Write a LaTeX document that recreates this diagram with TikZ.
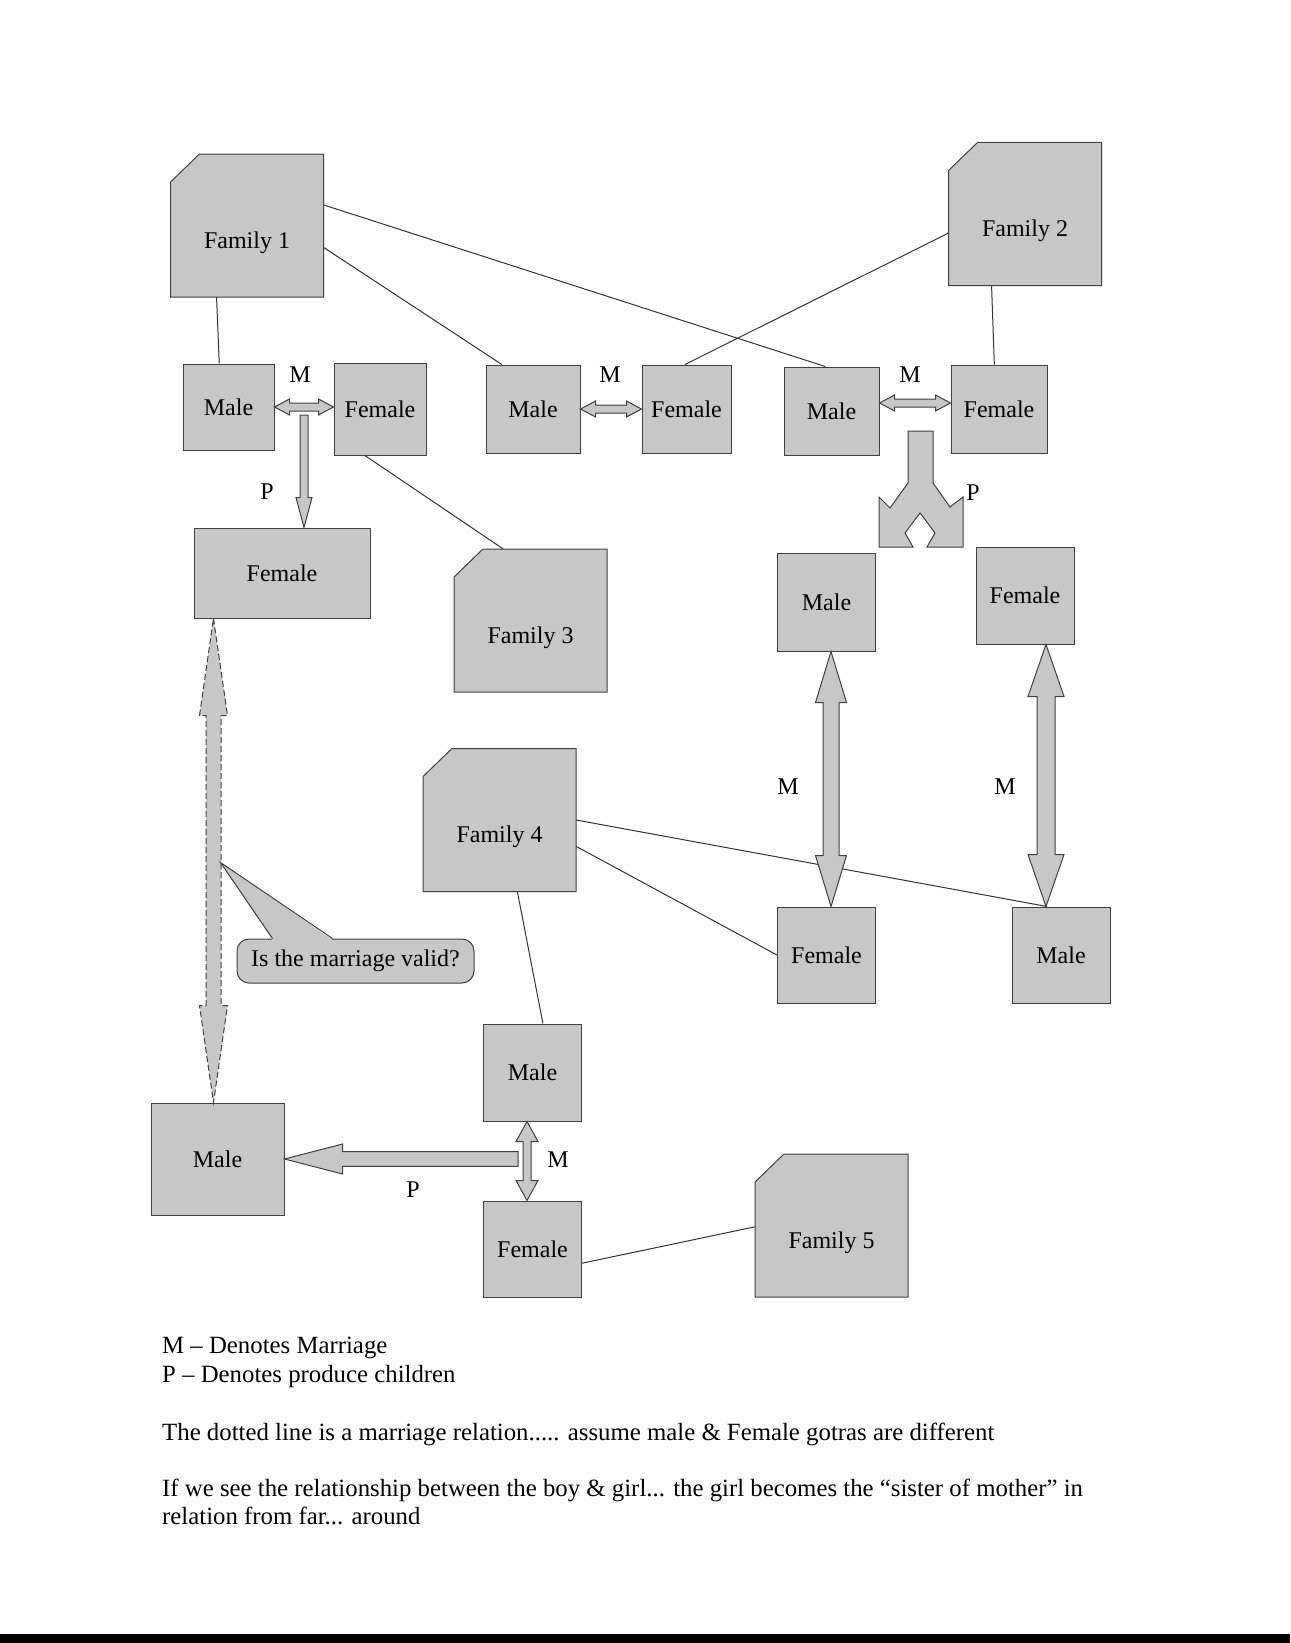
\documentclass[tikz,border=0pt]{standalone}
\usepackage{fontspec}
\setmainfont{Liberation Serif}
\usetikzlibrary{calc}

% freccia larga a due punte: [stile] da, a, mezzo fusto, mezza punta, lunghezza punta
\newcommand\twoway[6][]{%
  \coordinate (ha) at ($(#2)!#6!(#3)$);
  \coordinate (hb) at ($(#3)!#6!(#2)$);
  \path[fat,#1] (#2) -- ($(ha)!#5!90:(#3)$) -- ($(ha)!#4!90:(#3)$)
    -- ($(hb)!#4!-90:(#2)$) -- ($(hb)!#5!-90:(#2)$) -- (#3)
    -- ($(hb)!#5!90:(#2)$) -- ($(hb)!#4!90:(#2)$)
    -- ($(ha)!#4!-90:(#3)$) -- ($(ha)!#5!-90:(#3)$) -- cycle;}
% freccia larga a una punta
\newcommand\oneway[6][]{%
  \coordinate (ha) at ($(#3)!#6!(#2)$);
  \path[fat,#1] ($(#2)!#4!90:(#3)$) -- ($(ha)!#4!-90:(#2)$) -- ($(ha)!#5!-90:(#2)$)
    -- (#3) -- ($(ha)!#5!90:(#2)$) -- ($(ha)!#4!90:(#2)$) -- ($(#2)!#4!-90:(#3)$) -- cycle;}
% famiglia: riquadro con angolo smussato, nome, centro, testo
\newcommand\famnode[3]{%
  \path[fat, shift={(#2)}] (-47.5,-71.5) -- (76.5,-71.5) -- (76.5,71.5)
    -- (-76.5,71.5) -- (-76.5,-43.5) -- cycle;
  \node[family] (#1) at (#2) {#3};}

\begin{document}
\begin{tikzpicture}[x=1pt, y=-1pt, font=\fontsize{24}{28}\selectfont,
    box/.style={draw=black!75, line width=1pt, fill=black!22, inner sep=0pt},
    person/.style={box, minimum width=98pt, minimum height=96pt},
    family/.style={inner sep=0pt, minimum width=153pt, minimum height=143pt,
      text height=45pt, text depth=0pt},
    link/.style={draw=black!80, line width=1pt},
    fat/.style={draw=black!75, line width=1pt, fill=black!22},
    lbl/.style={inner sep=0pt},
    note/.style={anchor=base west, inner sep=0pt, font=\fontsize{24.8}{28}\selectfont}]
    \useasboundingbox (0,0) rectangle (1290,1643);
    \fill (0,1634) rectangle (1290,1643);

    % Famiglie
    \famnode{fam1}{247,225.5}{Family 1}
    \famnode{fam2}{1025,214}{Family 2}
    \famnode{fam3}{530.5,620.5}{Family 3}
    \famnode{fam4}{499.5,820}{Family 4}
    \famnode{fam5}{831.5,1225.5}{Family 5}

    % Persone
    \node[person, minimum width=91pt, minimum height=86pt] (m1) at (228.5,407) {Male};
    \node[person, minimum width=92pt, minimum height=92pt] (f1) at (380,409) {Female};
    \node[person, minimum width=94pt, minimum height=88pt] (m2) at (533,409) {Male};
    \node[person, minimum width=89pt, minimum height=88pt] (f2) at (686.5,409) {Female};
    \node[person, minimum width=95pt, minimum height=88pt] (m3) at (831.5,411) {Male};
    \node[person, minimum width=96pt, minimum height=88pt] (f3) at (999,409) {Female};
    \node[person, minimum width=176pt, minimum height=90pt] (f6) at (282,573) {Female};
    \node[person, minimum height=98pt] (m4) at (826.5,602) {Male};
    \node[person, minimum height=97pt] (f4) at (1025,595.5) {Female};
    \node[person] (f5) at (826.5,955) {Female};
    \node[person] (m6) at (1061,955) {Male};
    \node[person, minimum height=97pt] (m7) at (532.5,1072.5) {Male};
    \node[person] (f7) at (532.5,1249) {Female};
    \node[person, minimum width=133pt, minimum height=112pt] (m8) at (217.5,1159) {Male};

    % Collegamenti
    \draw[link] (fam1.-113) -- (m1.102);
    \draw[link] (fam1.-16.5) -- (m2.125);
    \draw[link] (fam1.15) -- (m3.98);
    \draw[link] (fam2.194) -- (f2.92);
    \draw[link] (fam2.-115) -- (f3.96);
    \draw[link] (f1.-108) -- (fam3.111);
    \draw[link] (fam4.0) -- (m6.106);
    \draw[link] (fam4.-19) -- (f5.west);
    \draw[link] (fam4.-76) -- (m7.78);
    \draw[link] (f7.-16) -- (fam5.181);

    % Matrimoni
    \coordinate (a1) at (m1.east -| f1.west);
    \twoway{m1.east}{a1}{4pt}{8pt}{15pt}
    \twoway{m2.east}{f2.west}{4pt}{8pt}{15pt}
    \coordinate (a3) at ([yshift=8pt]m3.east);
    \coordinate (b3) at (a3 -| f3.west);
    \twoway{a3}{b3}{4pt}{8pt}{15pt}
    \coordinate (a4) at ([xshift=4.5pt]m4.south);
    \coordinate (b4) at (a4 |- f5.north);
    \twoway{a4}{b4}{8pt}{15.5pt}{51pt}
    \coordinate (c4) at ([xshift=21pt]f4.south);
    \coordinate (d4) at (c4 |- m6.north);
    \twoway{c4}{d4}{9pt}{18pt}{52pt}
    \coordinate (a7) at ([xshift=-5.5pt]m7.south);
    \coordinate (b7) at (a7 |- f7.north);
    \twoway{a7}{b7}{4pt}{11pt}{20pt}
    \coordinate (d1) at ([xshift=20pt]f6.south west);
    \coordinate (d2) at (d1 |- m8.north);
    \twoway[dash pattern=on 6pt off 3pt]{d1}{d2}{7.5pt}{14pt}{97pt}

    % Figli
    \coordinate (p1) at (304,415);
    \coordinate (q1) at (p1 |- f6.north);
    \oneway{p1}{q1}{4pt}{8pt}{30pt}
    \coordinate (p2) at (518,1159);
    \oneway{p2}{m8.east}{7.3pt}{15pt}{58pt}
    \path[fat] (908,431) -- (908,483) -- (890,508) -- (879,497) -- (879,547)
      -- (913,547) -- (905,533) -- (920,513) -- (935,533) -- (927,547)
      -- (963,547) -- (963,497) -- (950,507) -- (933,483) -- (933,431) -- cycle;

    % Etichette
    \node[lbl] (lm1) at (300,375) {M};
    \node[lbl] (lm2) at (610,375) {M};
    \node[lbl] (lm3) at (910,375) {M};
    \node[lbl] (lm4) at (788,787) {M};
    \node[lbl] (lm5) at (1005,787) {M};
    \node[lbl] (lm6) at (558,1160) {M};
    \node[lbl] (lp1) at (267,492) {P};
    \node[lbl] (lp2) at (973,493) {P};
    \node[lbl] (lp3) at (413,1190) {P};

    % Domanda
    \node[box, rounded corners=12pt, minimum width=237pt, minimum height=44pt] (ask)
      at (355.5,961) {Is the marriage valid?};
    \coordinate (tip) at ($(d1)!.5!(d2)+(7,2)$);
    \fill[black!22] ($(ask.north west)+(36,1.5)$) -- (tip) -- ($(ask.north west)+(96,1.5)$) -- cycle;
    \draw[link, draw=black!75] ($(ask.north west)+(36,0)$) -- (tip) -- ($(ask.north west)+(96,0)$);

    % Note
    \node[note] (n1) at (162,1353) {M – Denotes Marriage};
    \node[note] (n2) at (162,1382) {P – Denotes produce children};
    \node[note] (n3) at (162,1440) {The dotted line is a marriage relation..... assume male \& Female gotras are different};
    \node[note] (n4) at (162,1496) {If we see the relationship between the boy \& girl... the girl becomes the “sister of mother” in};
    \node[note] (n5) at (162,1524) {relation from far... around};
\end{tikzpicture}
\end{document}
